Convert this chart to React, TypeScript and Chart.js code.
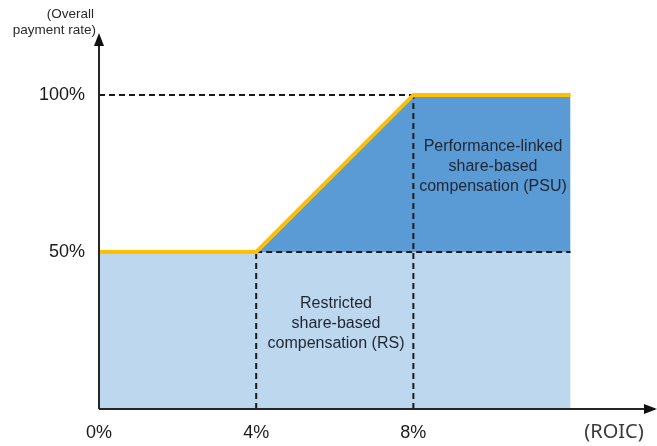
import React, { useEffect, useRef } from "react";
import { Chart, registerables } from "chart.js";

Chart.register(...registerables);

// ROIC breakpoints (%) and payment rates (%)
const xTicks = [0, 4, 8];
const xTickLabels = ["0%", "4%", "8%"];
const yTicks = [50, 100];
const yTickLabels = ["50%", "100%"];

const roicPoints = [0, 4, 8, 12];
const paymentRate = [50, 50, 100, 100];

const rsX = [0, 12];
const rsY = [50, 50];
const psuX = [4, 8, 12];
const psuY = [50, 100, 100];

const xMax = 14.2;
const yMax = 119.7;

const psuLabel = ["Performance-linked", "share-based", "compensation (PSU)"];
const rsLabel = ["Restricted", "share-based", "compensation (RS)"];
const yTitle = ["(Overall", "payment rate)"];
const xTitle = "(ROIC)";

const pts = (xs: number[], ys: number[]) => xs.map((x, i) => ({ x, y: ys[i] }));

const dashed = (data: { x: number; y: number }[]) => ({
  type: "line" as const,
  data,
  borderColor: "#1a1a1a",
  borderWidth: 2,
  borderDash: [6, 4],
  pointRadius: 0,
  fill: false,
  order: 1,
});

export default function App() {
  const ref = useRef<HTMLCanvasElement | null>(null);

  useEffect(() => {
    const canvas = ref.current;
    if (!canvas) return;

    const overlay = {
      id: "overlay",
      afterDraw(chart: any) {
        const ctx = chart.ctx;
        const xs = chart.scales.x;
        const ys = chart.scales.y;
        const { right, top } = chart.chartArea;
        const x0 = xs.getPixelForValue(0);
        const y0 = ys.getPixelForValue(0);
        ctx.save();
        // axes
        ctx.strokeStyle = "#262626";
        ctx.fillStyle = "#111";
        ctx.lineWidth = 2;
        ctx.beginPath();
        ctx.moveTo(x0, y0);
        ctx.lineTo(x0, top + 10);
        ctx.moveTo(x0, y0);
        ctx.lineTo(right - 10, y0);
        ctx.stroke();
        // arrowheads
        ctx.beginPath();
        ctx.moveTo(x0, top);
        ctx.lineTo(x0 - 5, top + 13);
        ctx.lineTo(x0 + 5, top + 13);
        ctx.closePath();
        ctx.fill();
        ctx.beginPath();
        ctx.moveTo(right, y0);
        ctx.lineTo(right - 13, y0 - 5);
        ctx.lineTo(right - 13, y0 + 5);
        ctx.closePath();
        ctx.fill();

        // tick labels
        ctx.fillStyle = "#1a1a1a";
        ctx.font = "18px 'Liberation Sans', Arial, sans-serif";
        ctx.textBaseline = "middle";
        ctx.textAlign = "center";
        xTicks.forEach((v, i) => {
          ctx.fillText(xTickLabels[i], xs.getPixelForValue(v), y0 + 24);
        });
        ctx.textAlign = "right";
        yTicks.forEach((v, i) => {
          ctx.fillText(yTickLabels[i], x0 - 14, ys.getPixelForValue(v));
        });

        // axis titles
        ctx.font = "20px 'Noto Sans', sans-serif";
        ctx.fillStyle = "#3a3a3a";
        ctx.textAlign = "center";
        ctx.fillText(xTitle, 614, y0 + 23);
        ctx.font = "13.5px 'Liberation Sans', Arial, sans-serif";
        ctx.fillStyle = "#2a2a2a";
        ctx.textAlign = "right";
        ctx.fillText(yTitle[0], 94, 14);
        ctx.fillText(yTitle[1], 96, 30);

        // region labels
        ctx.fillStyle = "#1f2633";
        ctx.font = "16px 'Liberation Sans', Arial, sans-serif";
        ctx.textAlign = "center";
        psuLabel.forEach((t, i) => ctx.fillText(t, 493, 147 + i * 20));
        rsLabel.forEach((t, i) => ctx.fillText(t, 336, 304 + i * 20));
        ctx.restore();
      },
    };

    const chart = new Chart(canvas, {
      type: "line",
      data: {
        datasets: [
          {
            data: pts(roicPoints, paymentRate),
            borderColor: "#ffc000",
            borderWidth: 4,
            pointRadius: 0,
            fill: false,
            order: 0,
            borderJoinStyle: "miter",
          } as any,
          dashed([{ x: 0, y: 100 }, { x: 8, y: 100 }]),
          dashed([{ x: 4, y: 0 }, { x: 4, y: 50 }]),
          dashed([{ x: 8, y: 0 }, { x: 8, y: 100 }]),
          dashed([{ x: 4, y: 50 }, { x: 12, y: 50 }]),
          {
            data: pts(psuX, psuY),
            borderWidth: 0,
            borderColor: "rgba(0,0,0,0)",
            backgroundColor: "#5b9bd5",
            pointRadius: 0,
            fill: { value: 50 },
            order: 2,
          } as any,
          {
            data: pts(rsX, rsY),
            borderWidth: 0,
            borderColor: "rgba(0,0,0,0)",
            backgroundColor: "#bdd7ee",
            pointRadius: 0,
            fill: "origin",
            order: 3,
          } as any,
        ],
      },
      options: {
        animation: false,
        responsive: false,
        maintainAspectRatio: false,
        layout: { padding: { left: 99, right: 0, top: 33, bottom: 37 } },
        plugins: { legend: { display: false }, tooltip: { enabled: false } },
        scales: {
          x: { type: "linear", min: 0, max: xMax, display: false },
          y: { type: "linear", min: 0, max: yMax, display: false },
        },
      },
      plugins: [overlay],
    });
    return () => chart.destroy();
  }, []);

  return (
    <div style={{ position: "fixed", left: 0, top: 0, width: 657, height: 446, background: "#fff" }}>
      <canvas ref={ref} width={657} height={446} style={{ width: 657, height: 446 }} />
    </div>
  );
}
